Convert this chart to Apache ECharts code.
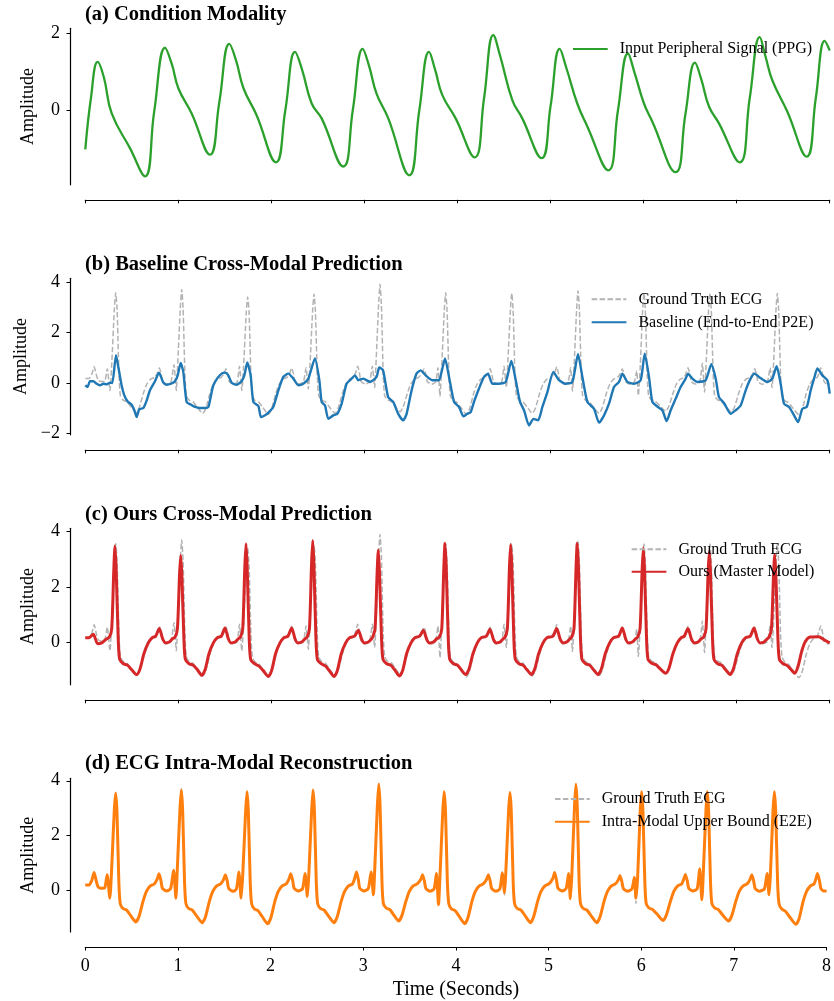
<!DOCTYPE html>
<html>
<head>
<meta charset="utf-8">
<script src="https://cdn.jsdelivr.net/npm/echarts@6.0.0/dist/echarts.min.js"></script>
<style>html,body{margin:0;padding:0;background:#fff}#c{width:834px;height:1001px}</style>
</head>
<body>
<div id="c"></div>
<script>
// ---- Data (time in seconds, amplitude) ----
const xTickLabels = [0,1,2,3,4,5,6,7,8];
const yTicksA = [0,2];
const yTicksB = [-2,0,2,4];
const yTicksC = [0,2,4];
const yTicksD = [0,2,4];
const panelTitles = ['(a) Condition Modality','(b) Baseline Cross-Modal Prediction','(c) Ours Cross-Modal Prediction','(d) ECG Intra-Modal Reconstruction'];
const seriesNames = ['Input Peripheral Signal (PPG)','Ground Truth ECG','Baseline (End-to-End P2E)','Ours (Master Model)','Intra-Modal Upper Bound (E2E)'];

const ppg = [[0.0,-1.03],[0.06,0.3],[0.133,1.26],[0.2,0.85],[0.284,-0.09],[0.48,-1.0],[0.642,-1.74],
[0.74,-0.05],[0.857,1.63],[0.93,1.2],[1.0,0.57],[1.143,-0.09],[1.34,-1.17],
[1.44,0.2],[1.548,1.73],[1.62,1.3],[1.70,0.57],[1.84,-0.13],[2.05,-1.37],
[2.15,0.0],[2.254,1.52],[2.33,1.05],[2.433,0.17],[2.54,-0.22],[2.773,-1.48],
[2.875,0.0],[2.981,1.60],[3.05,1.15],[3.13,0.43],[3.256,-0.22],[3.482,-1.71],
[3.59,0.0],[3.694,1.52],[3.76,1.05],[3.837,0.39],[3.98,-0.22],[4.185,-1.24],
[4.285,0.3],[4.385,1.96],[4.46,1.4],[4.589,0.26],[4.696,-0.22],[4.905,-1.26],
[5.0,0.1],[5.098,1.60],[5.17,1.1],[5.287,0.17],[5.395,-0.43],[5.621,-1.58],
[5.725,0.0],[5.832,1.48],[5.9,1.0],[6.004,0.17],[6.093,-0.30],[6.345,-1.63],
[6.45,-0.1],[6.552,1.24],[6.62,0.8],[6.703,0.09],[6.810,-0.35],[7.033,-1.37],
[7.14,0.3],[7.248,1.91],[7.31,1.4],[7.383,0.78],[7.544,-0.04],[7.753,-1.22],
[7.85,0.3],[7.946,1.81],[8.0,1.56]];

const groundTruthEcg = [[0,0.18],[0.04,0.18],[0.07,0.35],[0.095,0.64],[0.12,0.3],[0.14,0.1],[0.17,0.06],[0.21,0.08],[0.236,0.56],[0.265,-0.3],
[0.282,0.6],[0.312,2.9],[0.327,3.57],[0.342,2.9],[0.362,0.3],[0.377,-0.5],[0.407,-0.68],[0.447,-0.74],[0.492,-0.95],[0.545,-1.17],[0.58,-0.97],[0.623,-0.42],[0.66,-0.05],[0.702,0.15],[0.745,0.22],[0.776,0.4],[0.796,0.59],[0.816,0.35],[0.832,0.06],[0.878,-0.04],[0.921,0.05],[0.953,0.72],[0.978,-0.3],
[0.991,0.6],[1.021,2.95],[1.036,3.70],[1.051,2.95],[1.071,0.3],[1.086,-0.5],[1.116,-0.68],[1.156,-0.74],[1.201,-0.95],[1.261,-1.2],[1.296,-1.0],[1.339,-0.42],[1.376,-0.05],[1.418,0.15],[1.461,0.22],[1.492,0.38],[1.512,0.56],[1.532,0.33],[1.548,0.05],[1.594,-0.05],[1.632,0.04],[1.657,0.66],[1.682,-0.3],
[1.700,0.6],[1.730,2.8],[1.745,3.40],[1.760,2.8],[1.780,0.3],[1.795,-0.5],[1.825,-0.7],[1.865,-0.76],[1.910,-0.98],[1.968,-1.24],[2.003,-1.02],[2.046,-0.42],[2.083,-0.05],[2.125,0.15],[2.168,0.22],[2.198,0.4],[2.218,0.59],[2.238,0.35],[2.254,0.06],[2.300,-0.04],[2.345,0.05],[2.372,0.6],[2.397,-0.24],
[2.413,0.6],[2.443,2.85],[2.458,3.52],[2.473,2.85],[2.493,0.3],[2.508,-0.5],[2.538,-0.68],[2.578,-0.74],[2.623,-0.95],[2.684,-1.2],[2.719,-0.98],[2.762,-0.42],[2.799,-0.05],[2.841,0.15],[2.884,0.22],[2.907,0.42],[2.927,0.66],[2.947,0.38],[2.963,0.06],[3.009,-0.04],[3.055,0.05],[3.085,0.66],[3.110,-0.18],
[3.122,0.6],[3.152,3.1],[3.167,3.90],[3.182,3.1],[3.202,0.3],[3.217,-0.5],[3.247,-0.66],[3.287,-0.72],[3.330,-0.92],[3.382,-1.14],[3.417,-0.94],[3.460,-0.42],[3.497,-0.05],[3.539,0.15],[3.582,0.22],[3.620,0.38],[3.640,0.56],[3.660,0.33],[3.676,0.05],[3.722,-0.05],[3.765,0.04],[3.790,0.60],[3.812,-0.54],
[3.828,0.5],[3.858,2.85],[3.873,3.57],[3.888,2.85],[3.908,0.3],[3.923,-0.5],[3.953,-0.7],[3.993,-0.76],[4.038,-0.98],[4.095,-1.24],[4.130,-1.02],[4.173,-0.42],[4.210,-0.05],[4.252,0.15],[4.295,0.22],[4.330,0.38],[4.350,0.56],[4.370,0.33],[4.386,0.05],[4.432,-0.05],[4.475,0.04],[4.500,0.66],[4.525,-0.18],
[4.538,0.6],[4.568,2.85],[4.583,3.55],[4.598,2.85],[4.618,0.3],[4.633,-0.5],[4.663,-0.68],[4.703,-0.74],[4.748,-0.95],[4.804,-1.2],[4.839,-0.98],[4.882,-0.42],[4.919,-0.05],[4.961,0.15],[5.004,0.22],[5.046,0.42],[5.066,0.64],[5.086,0.36],[5.102,0.06],[5.148,-0.04],[5.190,0.05],[5.216,0.60],[5.235,-0.32],
[5.252,0.6],[5.280,2.9],[5.295,3.65],[5.310,2.9],[5.330,0.3],[5.345,-0.5],[5.375,-0.68],[5.415,-0.74],[5.460,-0.95],[5.521,-1.2],[5.556,-0.98],[5.599,-0.42],[5.636,-0.05],[5.678,0.15],[5.721,0.22],[5.751,0.38],[5.771,0.56],[5.791,0.33],[5.807,0.05],[5.853,-0.05],[5.900,0.04],[5.926,0.48],[5.943,-0.5],
[5.962,0.5],[5.989,2.85],[6.004,3.55],[6.019,2.85],[6.039,0.3],[6.054,-0.5],[6.084,-0.66],[6.124,-0.72],[6.175,-0.9],[6.237,-1.12],[6.272,-0.92],[6.315,-0.42],[6.352,-0.05],[6.394,0.15],[6.437,0.22],[6.457,0.4],[6.477,0.60],[6.497,0.36],[6.513,0.06],[6.559,-0.04],[6.605,0.05],[6.631,0.78],[6.655,-0.36],
[6.670,0.6],[6.698,2.85],[6.713,3.55],[6.728,2.85],[6.748,0.3],[6.763,-0.5],[6.793,-0.66],[6.833,-0.72],[6.880,-0.92],[6.943,-1.14],[6.978,-0.94],[7.021,-0.42],[7.058,-0.05],[7.100,0.15],[7.143,0.22],[7.174,0.38],[7.194,0.56],[7.214,0.33],[7.230,0.05],[7.276,-0.05],[7.330,0.04],[7.359,0.60],[7.380,-0.18],
[7.395,0.6],[7.422,2.85],[7.437,3.55],[7.452,2.85],[7.472,0.3],[7.487,-0.5],[7.517,-0.7],[7.557,-0.78],[7.605,-1.0],[7.670,-1.26],[7.705,-1.04],[7.748,-0.42],[7.785,-0.05],[7.827,0.15],[7.865,0.22],[7.885,0.4],[7.903,0.60],[7.923,0.36],[7.939,0.06],[7.970,-0.04],[8.0,-0.04]];

const baselineP2E = [[0,-0.09],[0.025,-0.16],[0.05,0.07],[0.086,0.07],[0.122,-0.03],[0.158,-0.09],[0.194,-0.03],[0.23,-0.05],[0.265,0.01],[0.29,0.0],[0.33,1.10],[0.355,0.63],[0.39,-0.09],[0.419,-0.49],[0.455,-0.73],[0.498,-0.86],[0.527,-1.08],[0.552,-1.35],[0.58,-1.04],[0.624,-0.99],[0.66,-0.69],[0.695,-0.29],[0.749,0.07],[0.792,0.41],[0.839,0.01],[0.874,-0.07],[0.921,-0.03],[0.964,0.07],[0.993,0.30],[1.025,0.79],[1.053,0.44],[1.089,-0.75],[1.136,-0.86],[1.179,-0.95],[1.232,-0.99],[1.286,-0.99],[1.322,-0.95],[1.351,-0.49],[1.376,-0.09],[1.422,0.2],[1.465,0.37],[1.501,0.41],[1.537,0.3],[1.573,0.01],[1.627,-0.07],[1.68,0.07],[1.709,0.3],[1.741,0.81],[1.777,0.3],[1.806,-0.75],[1.86,-0.91],[1.888,-1.35],[1.931,-1.28],[1.974,-1.15],[2.02,-0.95],[2.075,-0.29],[2.128,0.24],[2.182,0.37],[2.236,0.17],[2.29,-0.09],[2.343,-0.03],[2.397,0.17],[2.468,0.97],[2.515,0.11],[2.54,-0.75],[2.576,-0.89],[2.612,-1.42],[2.665,-1.28],[2.708,-1.22],[2.755,-0.82],[2.808,-0.03],[2.862,0.17],[2.898,0.3],[2.934,0.11],[2.988,0.17],[3.06,0.04],[3.13,0.24],[3.159,0.61],[3.2,0.5],[3.255,-0.56],[3.309,-0.75],[3.363,-1.22],[3.417,-1.48],[3.453,-1.22],[3.507,-0.29],[3.56,0.37],[3.604,0.5],[3.658,0.3],[3.729,0.11],[3.8,0.11],[3.837,0.57],[3.866,0.97],[3.909,0.24],[3.963,-0.75],[4.017,-0.95],[4.063,-1.32],[4.106,-1.22],[4.142,-1.15],[4.177,-0.75],[4.231,-0.22],[4.285,0.24],[4.328,0.37],[4.375,-0.03],[4.446,-0.03],[4.518,0.04],[4.579,0.87],[4.626,0.11],[4.672,-0.75],[4.715,-1.08],[4.769,-1.68],[4.816,-1.42],[4.866,-1.48],[4.912,-0.95],[4.966,-0.36],[5.03,0.44],[5.091,0.11],[5.163,-0.03],[5.235,0.04],[5.295,1.14],[5.342,0.24],[5.396,-0.75],[5.467,-1.02],[5.521,-1.57],[5.575,-1.28],[5.628,-0.82],[5.682,-0.16],[5.736,0.04],[5.772,0.37],[5.826,0.04],[5.897,-0.03],[5.969,0.11],[6.012,1.16],[6.058,0.24],[6.094,-0.75],[6.148,-0.93],[6.202,-1.08],[6.248,-1.51],[6.291,-1.08],[6.345,-0.62],[6.398,-0.16],[6.452,0.17],[6.478,0.37],[6.524,0.17],[6.578,0.04],[6.667,0.11],[6.728,0.74],[6.775,0.17],[6.81,-0.56],[6.864,-0.79],[6.936,-1.22],[6.989,-1.08],[7.043,-0.89],[7.097,-0.29],[7.15,0.17],[7.193,0.37],[7.24,0.24],[7.33,0.04],[7.383,0.17],[7.43,0.66],[7.473,-0.03],[7.509,-0.82],[7.563,-0.95],[7.617,-1.28],[7.66,-1.55],[7.706,-1.02],[7.753,-0.95],[7.796,-0.29],[7.832,0.17],[7.868,0.57],[7.921,0.3],[7.975,0.11],[8.0,-0.42]];

const oursMaster = [[0,0.18],[0.04,0.18],[0.086,0.30],[0.133,-0.04],[0.176,-0.01],[0.219,0.11],
[0.259,0.2],[0.284,0.5],[0.306,2.6],[0.319,3.48],[0.332,2.6],[0.353,0.2],[0.369,-0.6],[0.409,-0.76],[0.455,-0.82],[0.499,-0.98],[0.552,-1.15],[0.588,-0.95],[0.630,-0.4],[0.677,-0.01],[0.720,0.18],[0.756,0.23],[0.795,0.51],[0.831,0.14],[0.860,-0.01],[0.903,0.02],[0.938,0.14],
[0.965,0.2],[0.990,0.5],[1.012,2.4],[1.025,3.14],[1.038,2.4],[1.059,0.2],[1.075,-0.6],[1.115,-0.76],[1.161,-0.82],[1.205,-0.98],[1.251,-1.18],[1.287,-0.98],[1.329,-0.4],[1.376,-0.01],[1.419,0.18],[1.462,0.23],[1.501,0.53],[1.537,0.14],[1.566,-0.01],[1.609,0.02],[1.644,0.14],
[1.667,0.2],[1.692,0.5],[1.714,2.7],[1.727,3.56],[1.740,2.7],[1.761,0.2],[1.777,-0.6],[1.817,-0.76],[1.863,-0.84],[1.910,-1.0],[1.967,-1.22],[2.003,-1.0],[2.045,-0.4],[2.092,-0.01],[2.135,0.18],[2.178,0.23],[2.218,0.53],[2.254,0.14],[2.283,-0.01],[2.326,0.02],[2.361,0.14],
[2.384,0.2],[2.409,0.5],[2.431,2.8],[2.444,3.68],[2.457,2.8],[2.478,0.2],[2.494,-0.6],[2.534,-0.76],[2.580,-0.84],[2.620,-1.0],[2.673,-1.22],[2.709,-1.0],[2.751,-0.4],[2.798,-0.01],[2.841,0.18],[2.894,0.23],[2.934,0.45],[2.970,0.12],[2.999,-0.01],[3.042,0.02],[3.077,0.14],
[3.089,0.2],[3.114,0.5],[3.136,2.5],[3.149,3.34],[3.162,2.5],[3.183,0.2],[3.199,-0.6],[3.239,-0.76],[3.285,-0.82],[3.325,-0.98],[3.375,-1.2],[3.411,-1.0],[3.453,-0.4],[3.500,-0.01],[3.543,0.18],[3.593,0.23],[3.633,0.45],[3.669,0.12],[3.698,-0.01],[3.741,0.02],[3.776,0.14],
[3.806,0.2],[3.831,0.5],[3.853,2.7],[3.866,3.58],[3.879,2.7],[3.900,0.2],[3.916,-0.6],[3.956,-0.76],[4.002,-0.82],[4.040,-0.98],[4.088,-1.15],[4.124,-0.95],[4.166,-0.4],[4.213,-0.01],[4.256,0.18],[4.309,0.23],[4.349,0.48],[4.385,0.13],[4.414,-0.01],[4.457,0.02],[4.492,0.14],
[4.511,0.2],[4.536,0.5],[4.558,2.7],[4.571,3.54],[4.584,2.7],[4.605,0.2],[4.621,-0.6],[4.661,-0.76],[4.707,-0.82],[4.747,-0.98],[4.794,-1.15],[4.830,-0.95],[4.872,-0.4],[4.919,-0.01],[4.962,0.18],[5.026,0.23],[5.066,0.51],[5.102,0.14],[5.131,-0.01],[5.174,0.02],[5.209,0.14],
[5.227,0.2],[5.252,0.5],[5.274,2.7],[5.287,3.58],[5.300,2.7],[5.321,0.2],[5.337,-0.6],[5.377,-0.76],[5.423,-0.82],[5.463,-0.98],[5.510,-1.15],[5.546,-0.95],[5.588,-0.4],[5.635,-0.01],[5.678,0.18],[5.731,0.23],[5.771,0.53],[5.807,0.14],[5.836,-0.01],[5.879,0.02],[5.914,0.14],
[5.937,0.2],[5.962,0.5],[5.984,2.6],[5.997,3.41],[6.010,2.6],[6.031,0.2],[6.047,-0.6],[6.087,-0.74],[6.133,-0.8],[6.180,-0.95],[6.237,-1.1],[6.273,-0.92],[6.315,-0.4],[6.362,-0.01],[6.405,0.18],[6.437,0.23],[6.477,0.51],[6.513,0.14],[6.542,-0.01],[6.585,0.02],[6.620,0.14],
[6.646,0.2],[6.671,0.5],[6.693,2.5],[6.706,3.30],[6.719,2.5],[6.740,0.2],[6.756,-0.6],[6.796,-0.76],[6.842,-0.82],[6.882,-0.98],[6.929,-1.15],[6.965,-0.95],[7.007,-0.4],[7.054,-0.01],[7.097,0.18],[7.146,0.23],[7.186,0.53],[7.222,0.14],[7.251,-0.01],[7.294,0.02],[7.329,0.14],
[7.349,0.2],[7.374,0.5],[7.396,2.4],[7.409,3.18],[7.422,2.4],[7.443,0.2],[7.459,-0.6],[7.499,-0.76],[7.540,-0.82],[7.580,-0.95],[7.624,-1.1],[7.660,-0.85],[7.700,-0.3],[7.740,0.05],[7.790,0.2],[7.880,0.21],[7.940,0.1],[8.0,-0.01]];

const e2eUpperBound = [[0,0.18],[0.04,0.18],[0.07,0.35],[0.095,0.64],[0.12,0.3],[0.14,0.1],[0.17,0.06],[0.21,0.08],[0.236,0.56],[0.265,-0.3],
[0.282,0.6],[0.312,2.85],[0.327,3.54],[0.342,2.85],[0.362,0.3],[0.377,-0.5],[0.407,-0.68],[0.447,-0.74],[0.492,-0.95],[0.545,-1.17],[0.58,-0.97],[0.623,-0.42],[0.66,-0.05],[0.702,0.15],[0.745,0.22],[0.776,0.4],[0.796,0.59],[0.816,0.35],[0.832,0.06],[0.878,-0.04],[0.921,0.05],[0.953,0.72],[0.978,-0.3],
[0.991,0.6],[1.021,2.9],[1.036,3.66],[1.051,2.9],[1.071,0.3],[1.086,-0.5],[1.116,-0.68],[1.156,-0.74],[1.201,-0.95],[1.261,-1.2],[1.296,-1.0],[1.339,-0.42],[1.376,-0.05],[1.418,0.15],[1.461,0.22],[1.492,0.38],[1.512,0.56],[1.532,0.33],[1.548,0.05],[1.594,-0.05],[1.632,0.04],[1.657,0.66],[1.682,-0.3],
[1.700,0.6],[1.730,2.85],[1.745,3.60],[1.760,2.85],[1.780,0.3],[1.795,-0.5],[1.825,-0.7],[1.865,-0.76],[1.910,-0.98],[1.968,-1.24],[2.003,-1.02],[2.046,-0.42],[2.083,-0.05],[2.125,0.15],[2.168,0.22],[2.198,0.4],[2.218,0.59],[2.238,0.35],[2.254,0.06],[2.300,-0.04],[2.345,0.05],[2.372,0.6],[2.397,-0.24],
[2.413,0.6],[2.443,2.9],[2.458,3.66],[2.473,2.9],[2.493,0.3],[2.508,-0.5],[2.538,-0.68],[2.578,-0.74],[2.623,-0.95],[2.684,-1.2],[2.719,-0.98],[2.762,-0.42],[2.799,-0.05],[2.841,0.15],[2.884,0.22],[2.907,0.42],[2.927,0.66],[2.947,0.38],[2.963,0.06],[3.009,-0.04],[3.055,0.05],[3.085,0.66],[3.110,-0.18],
[3.122,0.6],[3.152,3.05],[3.167,3.87],[3.182,3.05],[3.202,0.3],[3.217,-0.5],[3.247,-0.66],[3.287,-0.72],[3.330,-0.92],[3.382,-1.14],[3.417,-0.94],[3.460,-0.42],[3.497,-0.05],[3.539,0.15],[3.582,0.22],[3.620,0.38],[3.640,0.56],[3.660,0.33],[3.676,0.05],[3.722,-0.05],[3.765,0.04],[3.790,0.60],[3.812,-0.54],
[3.828,0.5],[3.858,2.85],[3.873,3.60],[3.888,2.85],[3.908,0.3],[3.923,-0.5],[3.953,-0.7],[3.993,-0.76],[4.038,-0.98],[4.095,-1.24],[4.130,-1.02],[4.173,-0.42],[4.210,-0.05],[4.252,0.15],[4.295,0.22],[4.330,0.38],[4.350,0.56],[4.370,0.33],[4.386,0.05],[4.432,-0.05],[4.475,0.04],[4.500,0.62],[4.525,-0.1],
[4.538,0.6],[4.568,2.85],[4.583,3.57],[4.598,2.85],[4.618,0.3],[4.633,-0.5],[4.663,-0.68],[4.703,-0.74],[4.748,-0.95],[4.804,-1.2],[4.839,-0.98],[4.882,-0.42],[4.919,-0.05],[4.961,0.15],[5.004,0.22],[5.046,0.42],[5.066,0.64],[5.086,0.36],[5.102,0.06],[5.148,-0.04],[5.190,0.05],[5.216,0.60],[5.235,-0.32],
[5.252,0.6],[5.280,3.05],[5.295,3.87],[5.310,3.05],[5.330,0.3],[5.345,-0.5],[5.375,-0.68],[5.415,-0.74],[5.460,-0.95],[5.521,-1.2],[5.556,-0.98],[5.599,-0.42],[5.636,-0.05],[5.678,0.15],[5.721,0.22],[5.751,0.36],[5.771,0.52],[5.791,0.31],[5.807,0.05],[5.853,-0.05],[5.900,0.04],[5.926,0.46],[5.943,-0.3],
[5.962,0.5],[5.989,2.85],[6.004,3.60],[6.019,2.85],[6.039,0.3],[6.054,-0.5],[6.084,-0.66],[6.124,-0.72],[6.175,-0.9],[6.237,-1.12],[6.272,-0.92],[6.315,-0.42],[6.352,-0.05],[6.394,0.15],[6.437,0.22],[6.457,0.38],[6.477,0.56],[6.497,0.34],[6.513,0.06],[6.559,-0.04],[6.605,0.05],[6.631,0.78],[6.655,-0.36],
[6.670,0.6],[6.698,2.85],[6.713,3.60],[6.728,2.85],[6.748,0.3],[6.763,-0.5],[6.793,-0.66],[6.833,-0.72],[6.880,-0.92],[6.943,-1.14],[6.978,-0.94],[7.021,-0.42],[7.058,-0.05],[7.100,0.15],[7.143,0.22],[7.174,0.38],[7.194,0.56],[7.214,0.33],[7.230,0.05],[7.276,-0.05],[7.330,0.04],[7.359,0.60],[7.380,-0.18],
[7.395,0.6],[7.422,2.85],[7.437,3.60],[7.452,2.85],[7.472,0.3],[7.487,-0.5],[7.517,-0.7],[7.557,-0.78],[7.605,-1.0],[7.670,-1.26],[7.705,-1.04],[7.748,-0.42],[7.785,-0.05],[7.827,0.15],[7.865,0.22],[7.885,0.4],[7.903,0.60],[7.923,0.36],[7.939,0.06],[7.970,-0.04],[8.0,-0.04]];

// ---- Layout / style ----
const FONT = '"Liberation Serif", "Times New Roman", serif';
const gridTops = [28.3, 278.3, 528.3, 778.3];
const gridH = 156.5;
const yMins = [-1.96, -2.05, -1.52, -1.54];
const yMaxs = [2.14, 4.14, 4.12, 4.09];
const yTicks = [yTicksA, yTicksB, yTicksC, yTicksD];
const titleTops = [4.5, 254.5, 504.5, 753];

const fmt = v => (v < 0 ? '\u2212' + Math.abs(v) : String(v));

const grids = gridTops.map(t => ({left: 85.3, width: 744.4, top: t, height: gridH}));
const xAxes = gridTops.map((t, i) => ({
  type: 'value', gridIndex: i, min: 0, max: 8, interval: 1, offset: 15,
  axisLine: {show: true, onZero: false, lineStyle: {color: '#000', width: 1.2}},
  axisTick: {show: true, length: 3.5, lineStyle: {color: '#000', width: 1}},
  axisLabel: {show: i === 3, fontFamily: FONT, fontSize: 18, color: '#000', margin: 10,
              formatter: v => String(xTickLabels[v])},
  splitLine: {show: false},
  name: i === 3 ? 'Time (Seconds)' : '', nameLocation: 'middle', nameGap: 33,
  nameTextStyle: {fontFamily: FONT, fontSize: 20, color: '#000'}
}));
const yAxes = gridTops.map((t, i) => ({
  type: 'value', gridIndex: i, min: yMins[i], max: yMaxs[i], offset: 15.3,
  axisLine: {show: true, onZero: false, lineStyle: {color: '#000', width: 1.2}},
  axisTick: {show: true, length: 3.5, customValues: yTicks[i], lineStyle: {color: '#000', width: 1}},
  axisLabel: {customValues: yTicks[i], fontFamily: FONT, fontSize: 18, color: '#000', margin: 10, formatter: fmt},
  splitLine: {show: false},
  name: 'Amplitude', nameLocation: 'middle', nameGap: 33, nameRotate: 90,
  nameTextStyle: {fontFamily: FONT, fontSize: 18, color: '#000'}
}));
const titles = panelTitles.map((txt, i) => ({
  text: txt, left: 85, top: titleTops[i], padding: 0,
  textStyle: {fontFamily: FONT, fontSize: 20.5, fontWeight: 'bold', color: '#000'}
}));
const legendText = {fontFamily: FONT, fontSize: 16, color: '#000', padding: [0, 0, 0, 7], lineHeight: 16};
const legends = [
  {left: 572, top: 41, data: [seriesNames[0]]},
  {left: 590.7, top: 291.3, itemGap: 7, data: [seriesNames[1], seriesNames[2]]},
  {left: 630.7, top: 541.3, itemGap: 6.4, data: [seriesNames[1], seriesNames[3]]},
  {left: 554, top: 791, itemGap: 6.7, data: [seriesNames[1], seriesNames[4]]}
].map(l => Object.assign({orient: 'vertical', padding: 0, itemWidth: 34.7, itemHeight: 14,
  itemStyle: {opacity: 0, borderWidth: 0}, textStyle: legendText, selectedMode: false}, l));

const gtStyle = {color: '#b3b3b3', width: 1.5, type: [5.5, 2.4]};
function line(name, idx, data, color, width, smooth, dashed) {
  return {
    type: 'line', name: name, xAxisIndex: idx, yAxisIndex: idx, data: data,
    symbol: 'none', showSymbol: false, smooth: smooth, animation: false,
    itemStyle: {color: color},
    lineStyle: dashed ? gtStyle : {color: color, width: width}
  };
}
const series = [
  line(seriesNames[0], 0, ppg, '#2ca02c', 2.3, 0.45, false),
  line(seriesNames[1], 1, groundTruthEcg, '#b3b3b3', 1.5, 0.2, true),
  line(seriesNames[2], 1, baselineP2E, '#1f77b4', 2.4, 0.2, false),
  line(seriesNames[1], 2, groundTruthEcg, '#b3b3b3', 1.5, 0.2, true),
  line(seriesNames[3], 2, oursMaster, '#d62728', 3, 0.25, false),
  line(seriesNames[1], 3, groundTruthEcg, '#b3b3b3', 1.5, 0.2, true),
  line(seriesNames[4], 3, e2eUpperBound, '#ff7f0e', 3, 0.2, false)
];

const chart = echarts.init(document.getElementById('c'), null, {renderer: 'canvas'});
chart.setOption({
  backgroundColor: '#fff',
  animation: false,
  title: titles,
  legend: legends,
  grid: grids,
  xAxis: xAxes,
  yAxis: yAxes,
  series: series
});
</script>
</body>
</html>
